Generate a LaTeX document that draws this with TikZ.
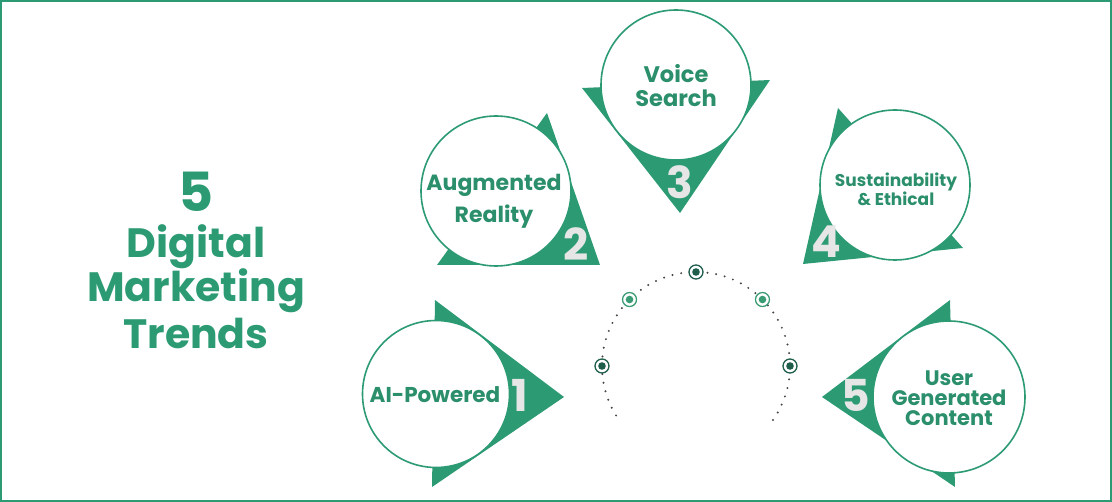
\documentclass[tikz,border=0pt]{standalone}
\usepackage{fontspec}
\setmainfont{Poppins}
\definecolor{tg}{HTML}{2C9B73}
\definecolor{txg}{HTML}{2A8F6A}
\definecolor{dg}{HTML}{1E5E4B}
\definecolor{lg}{HTML}{3A9C74}
\definecolor{numgray}{HTML}{E6E6E6}
\definecolor{dotgray}{HTML}{454545}
\tikzset{
  bubble/.style={circle, draw=tg, line width=1.6pt, fill=white, inner sep=0pt, minimum size=#1},
  lab/.style={text=txg, align=center, font=\bfseries\fontsize{#1}{#1}\selectfont},
  num/.style={text=numgray, font=\bfseries\fontsize{44}{44}\selectfont},
  tri/.style={fill=tg},
  dotline/.style={draw=dotgray, line width=2.2pt, line cap=round, dash pattern=on 0pt off 8.8pt},
  ring/.style={circle, draw=#1, fill=white, line width=1.3pt, minimum size=14pt, inner sep=0pt,
    path picture={\fill[#1] (path picture bounding box.center) circle[radius=3.8pt];}},
  ttl/.style={text=tg, align=center, font=\bfseries\fontsize{#1}{#1}\selectfont}
}
\begin{document}
\begin{tikzpicture}[x=1pt,y=-1pt]
\useasboundingbox (0,0) rectangle (1112,502);
\draw[tg, line width=2pt] (1,1) rectangle (1111,501);

% title
\node[ttl=54] (t5) at (196,192) {5};
\node[ttl=41] (t1) at (196,247) {Digital};
\node[ttl=41] (t2) at (196,291) {Marketing};
\node[ttl=41] (t3) at (196,333) {Trends};

% 1 AI-Powered
\fill[tri] (435,300) -- (564,397) -- (432,487) -- cycle;
\node[bubble=147pt] (b1) at (436,394) {};
\node[num] (n1) at (520,395) {1};
\node[lab=21.5] (l1) at (435,395) {AI-Powered};

% 2 Augmented Reality
\fill[tri] (547,113) -- (600,265) -- (437,265) -- cycle;
\node[bubble=150pt] (b2) at (496,191) {};
\node[num] (n2) at (576,244) {2};
\node[lab=22, font=\bfseries\fontsize{22}{32}\selectfont] (l2) at (494,201) {Augmented\\Reality};

% 3 Voice Search
\fill[tri] (582,88) -- (770,80) -- (680,213) -- cycle;
\node[bubble=150pt] (b3) at (676,85) {};
\node[num] (n3) at (680,182) {3};
\node[lab=22, font=\bfseries\fontsize{22.5}{24}\selectfont] (l3) at (676,86) {Voice\\Search};

% 4 Sustainability
\fill[tri] (838,108) -- (963,248) -- (803,264) -- cycle;
\node[bubble=150pt] (b4) at (895,185) {};
\node[num] (n4) at (826,242) {4};
\node[lab=17, font=\bfseries\fontsize{17}{19}\selectfont] (l4) at (896,189) {Sustainability\\\& Ethical};

% 5 User Generated Content
\fill[tri] (950,300) -- (822,397) -- (955,487) -- cycle;
\node[bubble=152pt] (b5) at (949,397) {};
\node[num] (n5) at (856,395) {5};
\node[lab=21, font=\bfseries\fontsize{21}{20}\selectfont] (l5) at (949,398) {User\\Generated\\Content};

% dotted arc
\coordinate (c) at (696,366);
\draw[dotline] ([shift={(35:94)}]c) arc[start angle=35, end angle=-215, radius=94];
\node[ring=dg] (r3) at ([shift={(-90:94)}]c) {};
\node[ring=lg] (r2) at ([shift={(-135:94)}]c) {};
\node[ring=lg] (r4) at ([shift={(-45:94)}]c) {};
\node[ring=dg] (r1) at ([shift={(180:94)}]c) {};
\node[ring=dg] (r5) at ([shift={(0:94)}]c) {};
\end{tikzpicture}
\end{document}
